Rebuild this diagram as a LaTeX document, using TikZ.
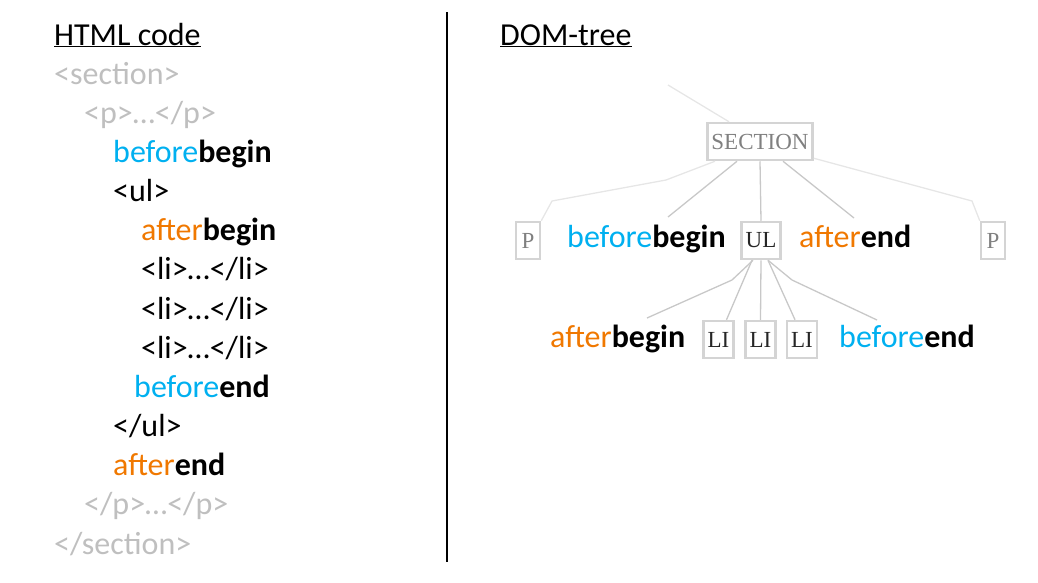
\documentclass[tikz,border=0pt]{standalone}
\usepackage{fontspec}
\setmainfont{Carlito}
\newfontfamily\treefont{Liberation Serif}
\definecolor{cblue}{RGB}{0,176,240}
\definecolor{corange}{RGB}{240,120,0}
\definecolor{cgray}{RGB}{191,191,191}
\definecolor{boxgray}{RGB}{212,212,212}
\definecolor{edgegray}{RGB}{200,200,200}
\definecolor{faintgray}{RGB}{230,230,230}
\definecolor{taggray}{RGB}{128,128,128}
\begin{document}
\begin{tikzpicture}[x=1pt,y=-1pt,
	code/.style={anchor=base west,inner sep=0pt,font=\fontsize{32}{32}\selectfont},
	tag/.style={draw=boxgray,line width=2.5pt,inner xsep=4pt,inner ysep=0pt,
		minimum height=37pt,minimum width=24pt,font=\treefont\fontsize{23}{23}\selectfont},
	edge/.style={edgegray,line width=1.3pt},
	faint/.style={faintgray,line width=1.3pt}]

	\useasboundingbox (0,0) rectangle (1038,582);

	%---------------------
	% HTML code
	%---------------------
	\node[code] (html-title) at (54,45) {\underline{HTML code}};
	\node[code,cgray] (code-section) at (54,84.2) {<section>};
	\node[code,cgray] (code-p) at (84,123.3) {<p>…</p>};
	\node[code] (code-bb) at (113,162.5) {\textcolor{cblue}{before}\textbf{begin}};
	\node[code] (code-ul) at (113,201.6) {<ul>};
	\node[code] (code-ab) at (141,240.8) {\textcolor{corange}{after}\textbf{begin}};
	\foreach \i in {6,7,8}
		\node[code] (code-li-\i) at (141,45+39.15*\i) {<li>…</li>};
	\node[code] (code-be) at (134,397.4) {\textcolor{cblue}{before}\textbf{end}};
	\node[code] (code-ul-end) at (113,436.5) {</ul>};
	\node[code] (code-ae) at (113,475.7) {\textcolor{corange}{after}\textbf{end}};
	\node[code,cgray] (code-p-end) at (84,514.8) {</p>…</p>};
	\node[code,cgray] (code-section-end) at (54,554) {</section>};

	% separator
	\coordinate (sep-top) at (447,12);
	\coordinate (sep-bot) at (447,562);
	\draw[line width=1.3pt] (sep-top) -- (sep-bot);

	%---------------------
	% DOM-tree
	%---------------------
	\node[code] (dom-title) at (500,45) {\underline{DOM-tree}};

	% level 0
	\node[tag,text=taggray] (section) at (760,141.5) {SECTION};
	\coordinate (parent) at (668,85);
	\draw[faint] (parent) -- ([xshift=-31pt]section.north);

	% level 1
	\node[tag,text=taggray] (p-left) at (528,240.5) {P};
	\node[tag,text=taggray] (p-right) at (993,240.5) {P};
	\node[tag,text=black!85] (ul) at (761,240.5) {UL};
	\node[code] (tree-bb) at (567,247) {\textcolor{cblue}{before}\textbf{begin}};
	\node[code] (tree-ae) at (799,247) {\textcolor{corange}{after}\textbf{end}};

	\coordinate (bb-top) at (668,217);
	\coordinate (ae-top) at (854,218);
	\draw[faint] ([xshift=-45pt]section.south) -- (666,180) -- (552,201) -- (p-left.north east);
	\draw[faint] ([yshift=3pt]section.south east) -- (972,201) -- (p-right.north west);
	\draw[edge] ([xshift=-23pt]section.south) -- (bb-top);
	\draw[edge] (section.south) -- (ul.north);
	\draw[edge] ([xshift=23pt]section.south) -- (ae-top);

	% level 2
	\node[tag,text=black!85] (li-1) at (718.5,339.5) {LI};
	\node[tag,text=black!85] (li-2) at (760.5,339.5) {LI};
	\node[tag,text=black!85] (li-3) at (802,339.5) {LI};
	\node[code] (tree-ab) at (550,347) {\textcolor{corange}{after}\textbf{begin}};
	\node[code] (tree-be) at (839,347) {\textcolor{cblue}{before}\textbf{end}};

	\coordinate (ab-top) at (647,318);
	\coordinate (be-top) at (877,320);
	\draw[edge] ([xshift=-8pt]ul.south) -- (732,280) -- (ab-top);
	\draw[edge] ([xshift=-9pt]ul.south) -- ([xshift=8pt]li-1.north);
	\draw[edge] (ul.south) -- (li-2.north);
	\draw[edge] ([xshift=7pt]ul.south) -- ([xshift=-7pt]li-3.north);
	\draw[edge] ([xshift=7pt]ul.south) -- (792,280) -- (be-top);

\end{tikzpicture}
\end{document}
